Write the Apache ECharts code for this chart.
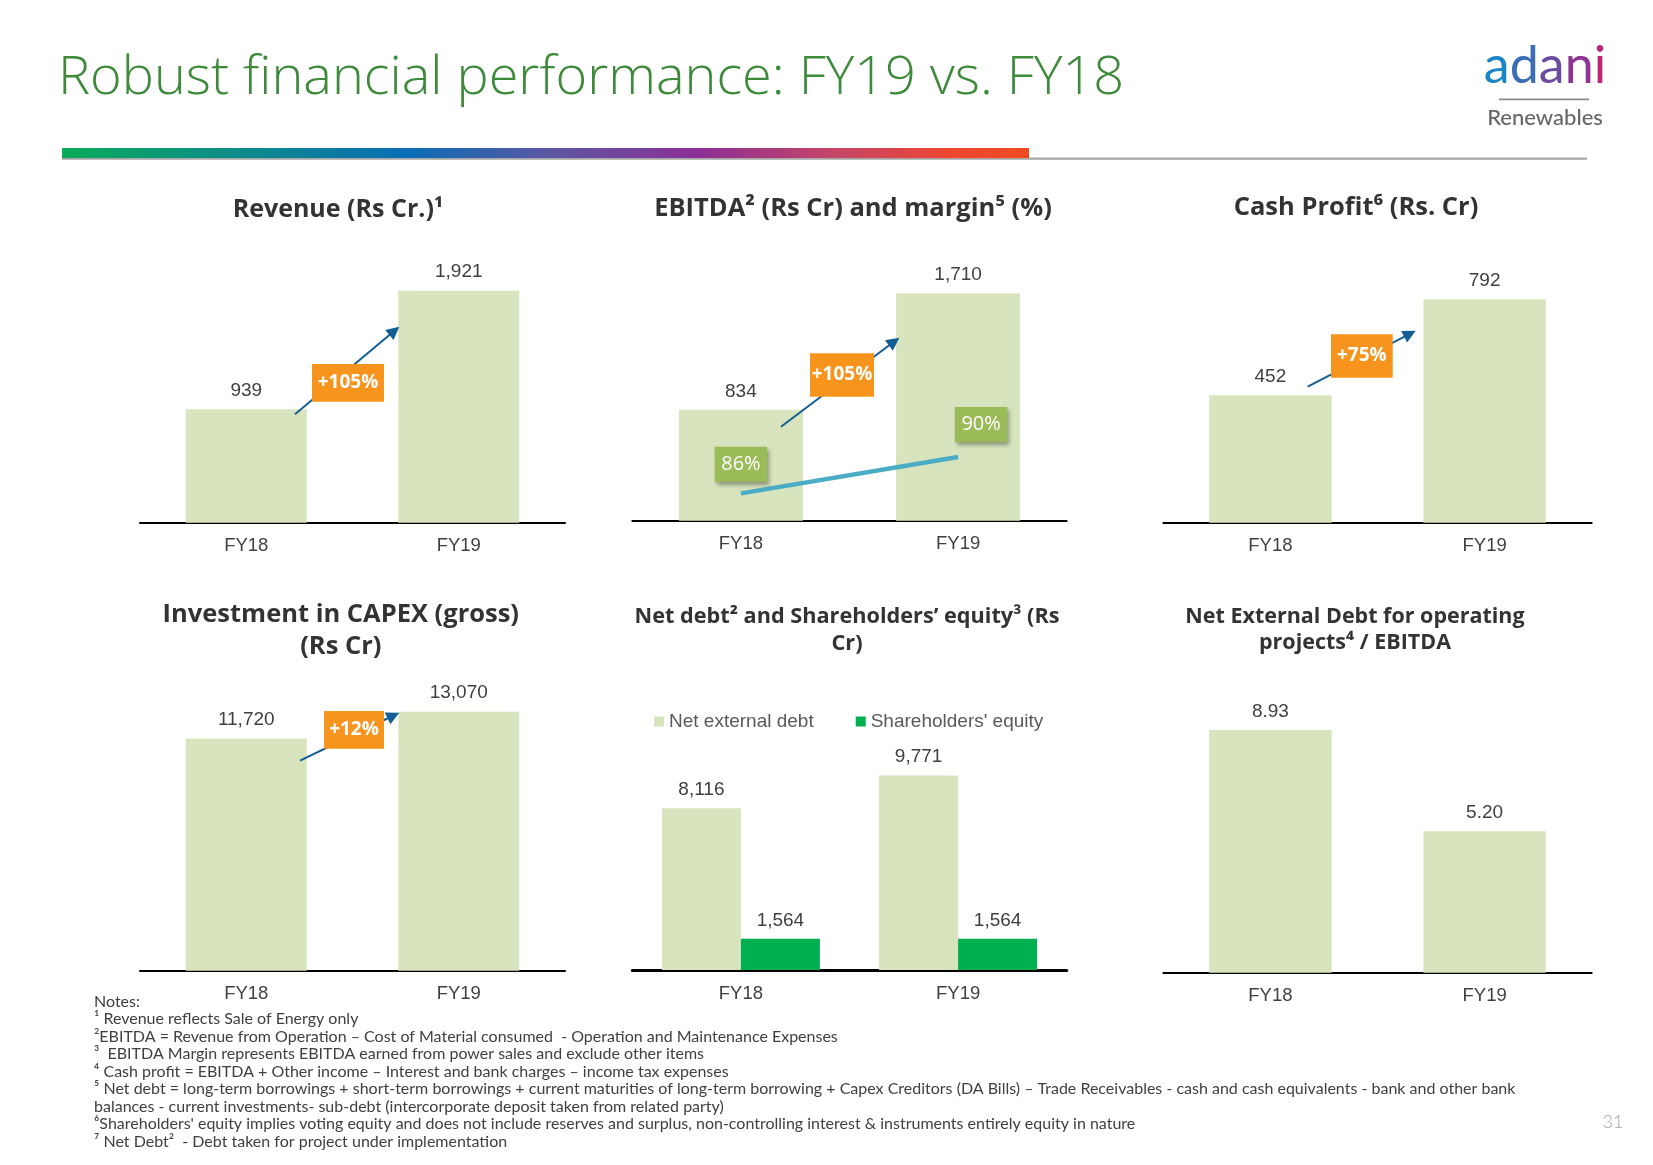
<!DOCTYPE html>
<html><head><meta charset="utf-8">
<script src="https://cdn.jsdelivr.net/npm/echarts@6/dist/echarts.min.js"></script>
<style>html,body{margin:0;padding:0;background:#fff;}#c{width:1653px;height:1165px;}</style>
</head><body><div id="c"></div>
<script>
// ---------- data ----------
const categories = ['FY18', 'FY19'];
const revenue = [939, 1921];
const ebitda = [834, 1710];
const ebitdaMargin = [86, 90];
const cashProfit = [452, 792];
const capex = [11720, 13070];
const netExternalDebt = [8116, 9771];
const shareholdersEquity = [1564, 1564];
const debtToEbitda = [8.93, 5.20];
const legendNames = ['Net external debt', "Shareholders' equity"];
const growthTags = ['+105%', '+105%', '+75%', '+12%'];
const pageTitle = 'Robust financial performance: FY19 vs. FY18';
const chartTitles = [
  'Revenue (Rs Cr.)\u00B9',
  'EBITDA\u00B2 (Rs Cr) and margin\u2075 (%)',
  'Cash Profit\u2076 (Rs. Cr)',
  'Investment in CAPEX (gross)\n(Rs Cr)',
  "Net debt\u00B2 and Shareholders\u2019 equity\u00B3 (Rs\nCr)",
  'Net External Debt for operating\nprojects\u2074 / EBITDA'
];
const notes = [
  'Notes:',
  '\u00B9 Revenue reflects Sale of Energy only',
  '\u00B2EBITDA = Revenue from Operation \u2013 Cost of Material consumed  - Operation and Maintenance Expenses',
  '\u00B3  EBITDA Margin represents EBITDA earned from power sales and exclude other items',
  '\u2074 Cash profit = EBITDA + Other income \u2013 Interest and bank charges \u2013 income tax expenses',
  '\u2075 Net debt = long-term borrowings + short-term borrowings + current maturities of long-term borrowing + Capex Creditors (DA Bills) \u2013 Trade Receivables - cash and cash equivalents - bank and other bank',
  'balances - current investments- sub-debt (intercorporate deposit taken from related party)',
  "\u2076Shareholders' equity implies voting equity and does not include reserves and surplus, non-controlling interest & instruments entirely equity in nature",
  '\u2077 Net Debt\u00B2  - Debt taken for project under implementation'
];

// ---------- styles ----------
const BAR = '#D7E4BD', EQUITY = '#00B050', TXT = '#404040';
const NUM_FONT = '"Liberation Sans", Arial, sans-serif';
const TITLE_FONT = '"Open Sans", "Noto Sans", sans-serif';
const fmtInt = p => Number(p.value).toLocaleString('en-US');
const fmt2 = p => Number(p.value).toFixed(2);

const grids = [
  {left: 140, top: 232.9, width: 425, height: 289.8},
  {left: 632.3, top: 254.7, width: 434.4, height: 266},
  {left: 1163.3, top: 240.7, width: 428.4, height: 282},
  {left: 140, top: 653.6, width: 425, height: 317.1},
  {left: 632.3, top: 731, width: 434.4, height: 239},
  {left: 1163.3, top: 700.9, width: 428.4, height: 271.8}
];
const yMax = [2400, 2000, 1000, 16000, 12000, 10];
const axisW = [2, 2, 2, 2, 3, 2];

const xAxis = grids.map((g, i) => ({
  type: 'category', gridIndex: i, data: categories,
  axisTick: {show: false},
  axisLine: {lineStyle: {color: '#000', width: axisW[i]}},
  axisLabel: {fontSize: 18.5, color: TXT, margin: 14, fontFamily: NUM_FONT}
}));
const yAxis = grids.map((g, i) => ({
  type: 'value', gridIndex: i, min: 0, max: yMax[i], show: false, splitLine: {show: false}
}));
yAxis.push({type: 'value', gridIndex: 1, min: 83, max: 112.2, show: false, splitLine: {show: false}});

const valLabel = (f) => ({show: true, position: 'top', distance: 9, fontSize: 19, color: TXT, fontFamily: NUM_FONT, formatter: f});
function barSeries(i, data, w, f) {
  return {type: 'bar', xAxisIndex: i, yAxisIndex: i, data: data, barWidth: w,
    itemStyle: {color: BAR}, label: valLabel(f || fmtInt), silent: true, animation: false};
}
const series = [
  barSeries(0, revenue, 121),
  barSeries(1, ebitda, 124),
  barSeries(2, cashProfit, 122.4),
  barSeries(3, capex, 121),
  Object.assign(barSeries(4, netExternalDebt, 79), {name: legendNames[0], barGap: '0%'}),
  Object.assign(barSeries(4, shareholdersEquity, 79), {name: legendNames[1], barGap: '0%', itemStyle: {color: EQUITY}}),
  barSeries(5, debtToEbitda, 122.4, fmt2),
  {
    type: 'line', xAxisIndex: 1, yAxisIndex: 6, animation: false, silent: true,
    data: [
      {value: ebitdaMargin[0], label: {distance: 11.5}},
      {value: ebitdaMargin[1], label: {distance: 15, offset: [23, 0]}}
    ],
    symbol: 'circle', symbolSize: 0.1, z: 5,
    lineStyle: {color: '#4BACC6', width: 4.5},
    itemStyle: {color: '#4BACC6'},
    label: {
      show: true, position: 'top', formatter: '{c}%', color: '#fff', fontSize: 20,
      fontFamily: '"Open Sans", Lato, sans-serif', backgroundColor: '#9BBB59',
      padding: [6, 6.5, 6, 6.5], lineHeight: 23,
      shadowColor: 'rgba(0,0,0,0.35)', shadowBlur: 4, shadowOffsetX: 2, shadowOffsetY: 3
    }
  }
];

// ---------- decorations ----------
const ARROW = '#145E96', ORANGE = '#F7941D';
function arrow(x1, y1, x2, y2) {
  const dx = x2 - x1, dy = y2 - y1, L = Math.hypot(dx, dy), ux = dx / L, uy = dy / L;
  const hl = 13, hw = 6.5, bx = x2 - ux * hl, by = y2 - uy * hl;
  return [
    {type: 'line', z: 50, shape: {x1: x1, y1: y1, x2: bx + ux * 2, y2: by + uy * 2}, style: {stroke: ARROW, lineWidth: 2}},
    {type: 'polygon', z: 50, shape: {points: [[x2, y2], [bx - uy * hw, by + ux * hw], [bx + uy * hw, by - ux * hw]]}, style: {fill: ARROW}}
  ];
}
function tag(x, y, w, h, t) {
  return [
    {type: 'rect', z: 60, shape: {x: x, y: y, width: w, height: h}, style: {fill: ORANGE}},
    {type: 'text', z: 61, x: x + w / 2, y: y + h / 2, style: {text: t, fill: '#fff', align: 'center', verticalAlign: 'middle',
      font: 'bold 19px ' + TITLE_FONT}}
  ];
}
const titlePos = [[338, 210], [853, 209], [1356, 208], [340.8, 631], [847, 630], [1355, 630.3]];
const titleSize = [25, 25.5, 25.5, 25.5, 21.7, 21.5];
const titleLH = [30, 30, 30, 31.7, 27.3, 26];

let elements = [];
// header
elements.push({type: 'text', x: 58, y: 79, style: {text: pageTitle, fill: '#3C8A3A', align: 'left', verticalAlign: 'middle',
  font: '300 54px "Open Sans", Lato, sans-serif'}});
elements.push({type: 'rect', shape: {x: 62, y: 157.5, width: 1525, height: 2.2}, style: {fill: '#A6A6A6'}});
elements.push({type: 'rect', shape: {x: 62, y: 148, width: 967, height: 10}, style: {fill: {
  type: 'linear', x: 0, y: 0, x2: 1, y2: 0, colorStops: [
    {offset: 0, color: '#0BAA5A'}, {offset: 0.18, color: '#0E8C8A'}, {offset: 0.36, color: '#0A6DB5'},
    {offset: 0.5, color: '#5A58A4'}, {offset: 0.66, color: '#8E2F96'}, {offset: 0.8, color: '#C64668'},
    {offset: 0.92, color: '#EE4630'}, {offset: 1, color: '#F04A23'}]}}});
// logo
elements.push({type: 'text', x: 1545, y: 66, style: {
  text: '{a|a}{b|d}{c|a}{d|n}{e|i}', align: 'center', verticalAlign: 'middle',
  font: '52px Lato, sans-serif',
  rich: {
    a: {fill: '#1B86C6', font: '52px Lato, sans-serif'},
    b: {fill: '#3B6CB6', font: '52px Lato, sans-serif'},
    c: {fill: '#6A4BA0', font: '52px Lato, sans-serif'},
    d: {fill: '#8E3594', font: '52px Lato, sans-serif'},
    e: {fill: '#BE2474', font: '52px Lato, sans-serif'}
  }}});
elements.push({type: 'rect', shape: {x: 1499, y: 98.5, width: 90, height: 1.8}, style: {fill: '#8C8C8C'}});
elements.push({type: 'text', x: 1545, y: 118, style: {text: 'Renewables', align: 'center', verticalAlign: 'middle',
  font: '500 22px Lato, sans-serif', fill: '#666'}});
// chart titles
chartTitles.forEach((t, i) => {
  elements.push({type: 'text', x: titlePos[i][0], y: titlePos[i][1], style: {text: t, align: 'center', verticalAlign: 'middle',
    fill: '#333', lineHeight: titleLH[i], font: 'bold ' + titleSize[i] + 'px ' + TITLE_FONT}});
});
// growth annotations
elements = elements.concat(
  arrow(295, 414.3, 399.3, 326.7), tag(312, 364, 72, 37.7, growthTags[0]),
  arrow(781, 426.7, 899.3, 337.7), tag(810, 353.3, 64, 43.4, growthTags[1]),
  arrow(1307.7, 386.7, 1415.7, 330.7), tag(1331, 334.3, 61.7, 43.4, growthTags[2]),
  arrow(300, 760.7, 399.3, 712.7), tag(324, 711, 60, 37.7, growthTags[3])
);
// notes
elements.push({type: 'text', x: 94, y: 993, style: {text: notes.join('\n'), align: 'left', verticalAlign: 'top',
  lineHeight: 17.5, fill: '#404040', font: '16px Lato, "Open Sans", sans-serif'}});
elements.push({type: 'text', x: 1613, y: 1122, style: {text: '31', align: 'center', verticalAlign: 'middle',
  fill: '#A6A6A6', font: '300 18px Lato, sans-serif'}});

const option = {
  backgroundColor: '#fff',
  animation: false,
  grid: grids,
  xAxis: xAxis,
  yAxis: yAxis,
  legend: {
    data: legendNames, left: 654, top: 712, padding: 0, itemWidth: 10, itemHeight: 10, itemGap: 42,
    icon: 'rect', selectedMode: false,
    textStyle: {fontSize: 19, color: '#595959', fontFamily: NUM_FONT}
  },
  series: series,
  graphic: {elements: elements}
};
const chart = echarts.init(document.getElementById('c'), null, {renderer: 'canvas'});
chart.setOption(option);
</script></body></html>
